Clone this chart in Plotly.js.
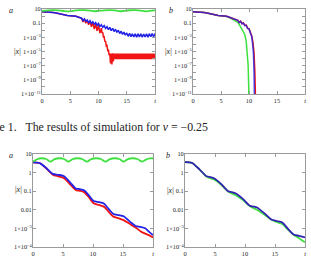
<!DOCTYPE html>
<html>
<head>
<meta charset="utf-8">
<script src="https://cdn.plot.ly/plotly-3.0.1.min.js"></script>
<style>
  html, body { margin: 0; padding: 0; background: #fff; }
  #chart { width: 311px; height: 269px; }
</style>
</head>
<body>
<div id="chart"></div>
<script>
// ---- axis ticks -------------------------------------------------------
const xTicks = [0, 5, 10, 15, 20];
const xLabels = ['0', '5', '10', '15', '<i>t</i>'];
const yTopTicks = [10, 1, 0.1, 0.01, 1e-3, 1e-4, 1e-5, 1e-6, 1e-7, 1e-8, 1e-9, 1e-10, 1e-11];
const yTopLabels = ['10', '', '0.1', '', '1×10<sup>−3</sup>', '', '1×10<sup>−5</sup>', '',
                    '1×10<sup>−7</sup>', '', '1×10<sup>−9</sup>', '', '1×10<sup>−11</sup>'];
const yBotTicks = [10, 1, 0.1, 0.01, 1e-3, 1e-4];
const yBotLabels = ['10', '1', '0.1', '0.01', '1×10<sup>−3</sup>', '1×10<sup>−4</sup>'];

// ---- top row, panel a (ν = −0.25) ---------------------------------------
const tTopA_green = [0, 1, 2, 3, 4, 4.7, 5.5, 6.5, 7.5, 8.5, 9.3, 10, 11, 12, 13, 13.8, 14.5, 15.5, 16.5, 17.5, 18.3, 19, 20];
const topA_green  = [5.5, 6.5, 7, 6.5, 5, 4.6, 5.5, 6.8, 6.9, 6, 4.8, 5.5, 6.6, 7, 6.3, 4.8, 5.5, 6.7, 7, 6, 4.7, 5.4, 6.5];

const tTopA_blue = [0, 0.5, 1, 1.5, 2, 2.5, 3, 3.5, 4, 4.5, 5, 5.5, 6, 6.5, 7,
  7.25, 7.5, 7.75, 8, 8.25, 8.5, 8.75, 9, 9.25, 9.5, 9.75, 10, 10.25, 10.5, 10.75, 11,
  11.25, 11.5, 11.75, 12, 12.25, 12.5, 12.75, 13, 13.25, 13.5, 13.75, 14, 14.25, 14.5, 14.75, 15,
  15.25, 15.5, 15.75, 16, 16.25, 16.5, 16.75, 17, 17.25, 17.5, 17.75, 18, 18.25, 18.5, 18.75, 19,
  19.25, 19.5, 19.75, 20];
const topA_blue = [4.0, 4.0, 3.8, 3.5, 3.2, 2.8, 2.2, 1.6, 1.3, 1.25, 1.15, 1.1, 0.95, 0.7, 0.5,
  0.22, 0.4, 0.18, 0.28, 0.12, 0.22, 0.09, 0.16, 0.07, 0.12, 0.05, 0.09, 0.035, 0.06, 0.025, 0.045,
  0.018, 0.032, 0.012, 0.025, 0.009, 0.019, 0.0065, 0.014, 0.005, 0.01, 0.0035, 0.0072, 0.0026, 0.0055, 0.002, 0.0042,
  0.0014, 0.0036, 0.0012, 0.0032, 0.0011, 0.0031, 0.0010, 0.0031, 0.0011, 0.0032, 0.0010, 0.0030, 0.0011, 0.0031, 0.0010, 0.0033,
  0.0012, 0.0034, 0.0012, 0.0035];

const tTopA_red = [0, 0.5, 1, 1.5, 2, 2.5, 3, 3.5, 4, 4.5, 5, 5.5, 6, 6.5, 7,
  7.25, 7.5, 7.75, 8, 8.25, 8.5, 8.75, 9, 9.25, 9.5, 9.75, 10, 10.25, 10.5,
  10.625, 10.75, 10.875, 11, 11.125, 11.25, 11.375, 11.5, 11.625, 11.75, 11.875, 12,
  12.125, 12.25, 12.375, 12.5, 12.625, 12.75, 12.875, 13, 13.125, 13.25, 13.375, 13.5, 13.625, 13.75, 13.875, 14,
  14.125, 14.25, 14.375, 14.5, 14.625, 14.75, 14.875, 15, 15.125, 15.25, 15.375, 15.5, 15.625, 15.75, 15.875, 16,
  16.125, 16.25, 16.375, 16.5, 16.625, 16.75, 16.875, 17, 17.125, 17.25, 17.375, 17.5, 17.625, 17.75, 17.875, 18,
  18.125, 18.25, 18.375, 18.5, 18.625, 18.75, 18.875, 19, 19.125, 19.25, 19.375, 19.5, 19.625, 19.75, 19.875, 20];
const topA_red = [4.0, 4.0, 3.8, 3.5, 3.2, 2.8, 2.2, 1.6, 1.3, 1.25, 1.15, 1.1, 0.95, 0.7, 0.5,
  0.15, 0.38, 0.1, 0.25, 0.06, 0.18, 0.03, 0.12, 0.015, 0.08, 0.008, 0.05, 0.004, 0.02,
  4e-3, 5e-3, 1e-3, 1.2e-3, 2.5e-4, 3e-4, 6e-5, 7e-5, 1.5e-5, 1.8e-5, 3e-6, 5e-6,
  2e-7, 5e-6, 1.5e-7, 5.5e-6, 4e-7, 5e-6, 8e-7, 5e-6, 8e-7, 5e-6, 8e-7, 5e-6, 8e-7, 5e-6, 8e-7, 5e-6,
  8e-7, 5e-6, 8e-7, 5e-6, 8e-7, 5e-6, 8e-7, 5e-6, 8e-7, 5e-6, 8e-7, 5e-6, 8e-7, 5e-6, 8e-7, 5e-6,
  8e-7, 5e-6, 8e-7, 5e-6, 8e-7, 5e-6, 8e-7, 5e-6, 8e-7, 5e-6, 8e-7, 5e-6, 8e-7, 5e-6, 8e-7, 5e-6,
  8e-7, 5e-6, 8e-7, 5e-6, 8e-7, 5e-6, 8e-7, 5e-6, 8e-7, 5e-6, 8e-7, 5e-6, 8e-7, 5e-6, 8e-7, 5e-6];

// ---- top row, panel b ---------------------------------------------------
const tTopB_blue = [0, 0.5, 1, 1.5, 2, 2.5, 3, 3.5, 4, 4.5, 5, 5.5, 6, 6.5, 7, 7.5, 8, 8.25, 8.5, 8.75,
  9, 9.25, 9.5, 9.75, 10, 10.25, 10.5, 10.65, 10.8, 10.9, 10.97, 11.0];
const topB_blue = [4.0, 4.0, 3.8, 3.5, 3.2, 2.8, 2.2, 1.6, 1.3, 1.25, 1.15, 1.1, 0.95, 0.7, 0.5, 0.35, 0.25, 0.12, 0.18, 0.08,
  0.1, 0.045, 0.05, 0.018, 0.015, 0.004, 1.2e-3, 1e-4, 5e-6, 1e-8, 1e-11, 1e-13];
const tTopB_red = [0, 0.5, 1, 1.5, 2, 2.5, 3, 3.5, 4, 4.5, 5, 5.5, 6, 6.5, 7, 7.5, 8, 8.25, 8.5, 8.75,
  9, 9.25, 9.5, 9.75, 10, 10.25, 10.5, 10.7, 10.9, 11.05, 11.15, 11.2];
const topB_red = [4.0, 4.0, 3.8, 3.5, 3.2, 2.8, 2.2, 1.6, 1.3, 1.25, 1.15, 1.1, 0.95, 0.7, 0.5, 0.35, 0.25, 0.13, 0.19, 0.085,
  0.11, 0.05, 0.055, 0.02, 0.017, 0.005, 1.5e-3, 2e-4, 6e-6, 1e-8, 1e-11, 1e-13];
const tTopB_green = [0, 0.5, 1, 1.5, 2, 2.5, 3, 3.5, 4, 4.5, 5, 5.5, 6, 6.5, 7, 7.5, 8, 8.5, 9, 9.25, 9.5, 9.7, 9.85, 9.95, 10];
const topB_green = [4.0, 4.0, 3.8, 3.5, 3.2, 2.8, 2.2, 1.55, 1.25, 1.2, 1.1, 1.0, 0.85, 0.6, 0.38, 0.25, 0.13, 0.03,
  7e-3, 2.5e-3, 3e-4, 1e-5, 1e-7, 1e-10, 1e-13];

// ---- bottom row, panel a ------------------------------------------------
const tBotA = [0, 0.6, 1.2, 2.2, 3.3, 4.2, 5.1, 6.1, 7.1, 7.8, 8.5, 9.3, 10.1, 11.0, 11.8, 12.6, 13.4, 14.3, 15.1,
  16.1, 17.1, 17.9, 18.7, 19.4, 20];
const botA_blue = [3.57, 3.47, 3.16, 1.78, 0.85, 0.76, 0.65, 0.32, 0.141, 0.129, 0.112, 0.06, 0.0295, 0.0257, 0.0219,
  0.0112, 0.0059, 0.0052, 0.0045, 0.0024, 0.00135, 0.0012, 0.00102, 6.3e-4, 4.4e-4];
const botA_red = [3.57, 3.47, 3.16, 1.7, 0.78, 0.63, 0.51, 0.25, 0.117, 0.105, 0.089, 0.048, 0.0224, 0.0182, 0.0148,
  0.0079, 0.0043, 0.00347, 0.0028, 0.00178, 0.00112, 7.1e-4, 5.2e-4, 4.2e-4, 3.3e-4];
const tBotA_green = [0, 0.7, 1.4, 2.2, 2.9, 3.6, 4.4, 5.2, 5.9, 6.6, 7.4, 8.2, 9.0, 9.7, 10.5, 11.3, 12.1, 12.8, 13.6,
  14.4, 15.1, 15.8, 16.6, 17.4, 18.2, 18.9, 19.5, 20];
const botA_green = [3.9, 5.2, 5.9, 5.4, 3.9, 5.3, 5.9, 5.4, 3.9, 5.3, 5.9, 5.4, 3.9, 5.3, 5.9, 5.4, 3.9, 5.3, 5.9,
  5.4, 3.9, 5.3, 5.9, 5.4, 3.9, 5.1, 5.8, 5.9];

// ---- bottom row, panel b ------------------------------------------------
const tBotB = [0, 0.6, 1.2, 2.4, 3.6, 4.2, 4.9, 6.0, 7.2, 7.8, 8.4, 9.6, 10.8, 11.4, 12.0, 13.2, 14.4, 15.3, 16.2,
  17.1, 18.1, 19.0, 20];
const botB_blue = [3.7, 3.6, 3.3, 1.5, 0.63, 0.57, 0.48, 0.25, 0.1, 0.089, 0.078, 0.04, 0.0166, 0.015, 0.0132,
  0.0066, 0.003, 0.0025, 0.0021, 0.001, 4.7e-4, 4.0e-4, 3.3e-4];
const botB_green = [3.7, 3.6, 3.3, 1.5, 0.6, 0.5, 0.42, 0.23, 0.095, 0.075, 0.063, 0.034, 0.0158, 0.0125, 0.01,
  0.0056, 0.0029, 0.0022, 0.0017, 9e-4, 4.6e-4, 3e-4, 1.8e-4];

// ---- colours ------------------------------------------------------------
const RED = '#f01414', BLUE = '#2222e6', GREEN = '#3ee03e', NAVY = '#3421b4';
const SERIF = 'Liberation Serif';

// ---- page geometry (pixels) --------------------------------------------
const W = 311, H = 269;
const px = x => x / W;            // horizontal pixel -> paper
const py = y => 1 - y / H;        // vertical pixel -> paper

function line(t, v, color, xa, ya, opts) {
  return Object.assign({
    x: t, y: v, xaxis: xa, yaxis: ya, type: 'scatter', mode: 'lines',
    line: { color: color, width: 1.5 }, hoverinfo: 'skip', showlegend: false
  }, opts || {});
}
const smooth = c => ({ line: { color: c, width: 1.8, shape: 'spline', smoothing: 0.7 } });

const traces = [
  line(tTopA_red, topA_red, RED, 'x', 'y'),
  line(tTopA_blue, topA_blue, BLUE, 'x', 'y'),
  line(tTopA_green, topA_green, GREEN, 'x', 'y', smooth(GREEN)),

  line(tTopB_green, topB_green, GREEN, 'x2', 'y2'),
  line(tTopB_red, topB_red, RED, 'x2', 'y2'),
  line(tTopB_blue, topB_blue, BLUE, 'x2', 'y2', { opacity: 0.8 }),

  line(tBotA, botA_red, RED, 'x3', 'y3', smooth(RED)),
  line(tBotA, botA_blue, BLUE, 'x3', 'y3', smooth(BLUE)),
  line(tBotA_green, botA_green, GREEN, 'x3', 'y3', smooth(GREEN)),

  line(tBotB, botB_green, GREEN, 'x4', 'y4', smooth(GREEN)),
  line(tBotB, botB_blue, NAVY, 'x4', 'y4', smooth(NAVY))
];

const tickFont = { family: SERIF, size: 6.3, color: '#222' };
const frame = {
  showline: true, linecolor: '#9a9a9a', linewidth: 1, mirror: 'ticks',
  ticks: 'inside', ticklen: 3, tickcolor: '#9a9a9a', tickwidth: 1,
  showgrid: false, zeroline: false, tickfont: tickFont, fixedrange: true
};
const xAxis = (dom, anchor) => Object.assign({}, frame, {
  domain: dom, anchor: anchor, range: [0, 20], tickmode: 'array', tickvals: xTicks, ticktext: xLabels
});
const yAxis = (dom, anchor, lo, vals, labels) => Object.assign({}, frame, {
  domain: dom, anchor: anchor, type: 'log', range: [lo, 1], tickmode: 'array', tickvals: vals, ticktext: labels,
  ticklabelstandoff: -1
});

const topY = [py(94), py(9)], botY = [py(247), py(154)];

const labelFont = { family: SERIF, size: 8, color: '#222' };
function note(text, x, y, font, extra) {
  return Object.assign({ text: text, x: px(x), y: py(y), xref: 'paper', yref: 'paper',
    showarrow: false, font: font || labelFont, xanchor: 'center', yanchor: 'middle' }, extra || {});
}

const layout = {
  width: W, height: H, margin: { l: 0, r: 0, t: 0, b: 0 },
  paper_bgcolor: '#fff', plot_bgcolor: '#fff', showlegend: false, hovermode: false,
  xaxis:  xAxis([px(42), px(155)], 'y'),
  yaxis:  yAxis(topY, 'x', -11, yTopTicks, yTopLabels),
  xaxis2: xAxis([px(193), px(305)], 'y2'),
  yaxis2: yAxis(topY, 'x2', -11, yTopTicks, yTopLabels),
  xaxis3: xAxis([px(33), px(153)], 'y3'),
  yaxis3: yAxis(botY, 'x3', -4, yBotTicks, yBotLabels),
  xaxis4: xAxis([px(185), px(305)], 'y4'),
  yaxis4: yAxis(botY, 'x4', -4, yBotTicks, yBotLabels),
  annotations: [
    note('<i>a</i>', 11, 10), note('<i>b</i>', 171, 10),
    note('<i>a</i>', 11, 155), note('<i>b</i>', 168, 155),
    note('|<i>x</i>|', 17, 51), note('|<i>x</i>|', 168, 51),
    note('|<i>x</i>|', 18, 189), note('|<i>x</i>|', 170, 190),
    note('Figure 1.\u2002\u00a0The results of simulation for <i>ν</i> = −0.25', -28.5, 127,
      { family: SERIF, size: 11.8, color: '#222' }, { xanchor: 'left' })
  ]
};

Plotly.newPlot('chart', traces, layout, { staticPlot: true, displayModeBar: false });
</script>
</body>
</html>
